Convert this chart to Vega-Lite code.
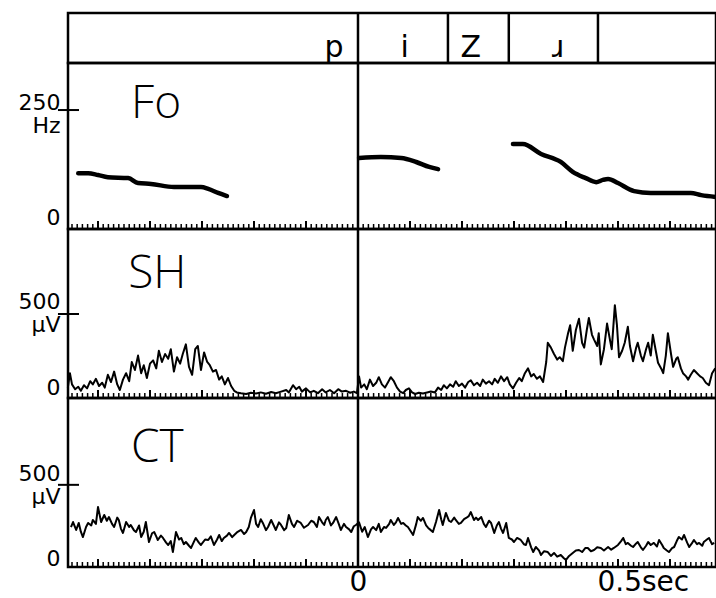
{
  "$schema": "https://vega.github.io/schema/vega-lite/v6.json",
  "background": "white",
  "padding": {"left": 16, "top": 10, "right": 0, "bottom": 4},
  "spacing": 0,
  "bounds": "flush",
  "config": {
    "view": {"stroke": "black", "strokeWidth": 2.5},
    "axis": {"labelFont": "DejaVu Sans", "labelColor": "black", "grid": false, "domain": false}
  },
  "datasets": {
    "zero": [{"t": 0}],
    "bounds": [{"t": 0}, {"t": 0.173}, {"t": 0.29}, {"t": 0.4615}],
    "segs": [{"t": -0.046, "label": "p"}, {"t": 0.09, "label": "i"}, {"t": 0.217, "label": "Z"}, {"t": 0.385, "label": "ɹ"}],
    "majors": [{"t": -0.5}, {"t": -0.4}, {"t": -0.3}, {"t": -0.2}, {"t": -0.1}, {"t": 0}, {"t": 0.1}, {"t": 0.2}, {"t": 0.3}, {"t": 0.4}, {"t": 0.5}, {"t": 0.6}],
    "minors": [
      {"t": -0.55}, {"t": -0.54}, {"t": -0.53}, {"t": -0.52}, {"t": -0.51}, {"t": -0.5}, {"t": -0.49}, {"t": -0.48}, {"t": -0.47}, {"t": -0.46},
      {"t": -0.45}, {"t": -0.44}, {"t": -0.43}, {"t": -0.42}, {"t": -0.41}, {"t": -0.4}, {"t": -0.39}, {"t": -0.38}, {"t": -0.37}, {"t": -0.36},
      {"t": -0.35}, {"t": -0.34}, {"t": -0.33}, {"t": -0.32}, {"t": -0.31}, {"t": -0.3}, {"t": -0.29}, {"t": -0.28}, {"t": -0.27}, {"t": -0.26},
      {"t": -0.25}, {"t": -0.24}, {"t": -0.23}, {"t": -0.22}, {"t": -0.21}, {"t": -0.2}, {"t": -0.19}, {"t": -0.18}, {"t": -0.17}, {"t": -0.16},
      {"t": -0.15}, {"t": -0.14}, {"t": -0.13}, {"t": -0.12}, {"t": -0.11}, {"t": -0.1}, {"t": -0.09}, {"t": -0.08}, {"t": -0.07}, {"t": -0.06},
      {"t": -0.05}, {"t": -0.04}, {"t": -0.03}, {"t": -0.02}, {"t": -0.01}, {"t": 0}, {"t": 0.01}, {"t": 0.02}, {"t": 0.03}, {"t": 0.04},
      {"t": 0.05}, {"t": 0.06}, {"t": 0.07}, {"t": 0.08}, {"t": 0.09}, {"t": 0.1}, {"t": 0.11}, {"t": 0.12}, {"t": 0.13}, {"t": 0.14},
      {"t": 0.15}, {"t": 0.16}, {"t": 0.17}, {"t": 0.18}, {"t": 0.19}, {"t": 0.2}, {"t": 0.21}, {"t": 0.22}, {"t": 0.23}, {"t": 0.24},
      {"t": 0.25}, {"t": 0.26}, {"t": 0.27}, {"t": 0.28}, {"t": 0.29}, {"t": 0.3}, {"t": 0.31}, {"t": 0.32}, {"t": 0.33}, {"t": 0.34},
      {"t": 0.35}, {"t": 0.36}, {"t": 0.37}, {"t": 0.38}, {"t": 0.39}, {"t": 0.4}, {"t": 0.41}, {"t": 0.42}, {"t": 0.43}, {"t": 0.44},
      {"t": 0.45}, {"t": 0.46}, {"t": 0.47}, {"t": 0.48}, {"t": 0.49}, {"t": 0.5}, {"t": 0.51}, {"t": 0.52}, {"t": 0.53}, {"t": 0.54},
      {"t": 0.55}, {"t": 0.56}, {"t": 0.57}, {"t": 0.58}, {"t": 0.59}, {"t": 0.6}, {"t": 0.61}, {"t": 0.62}, {"t": 0.63}, {"t": 0.64},
      {"t": 0.65}, {"t": 0.66}, {"t": 0.67}, {"t": 0.68}
    ],
    "fo": [
      {"seg": 1, "t": -0.538, "hz": 109}, {"seg": 1, "t": -0.519, "hz": 109}, {"seg": 1, "t": -0.5, "hz": 105}, {"seg": 1, "t": -0.481, "hz": 100},
      {"seg": 1, "t": -0.442, "hz": 98}, {"seg": 1, "t": -0.423, "hz": 87}, {"seg": 1, "t": -0.398, "hz": 85}, {"seg": 1, "t": -0.354, "hz": 78},
      {"seg": 1, "t": -0.302, "hz": 78}, {"seg": 1, "t": -0.288, "hz": 74}, {"seg": 1, "t": -0.269, "hz": 65}, {"seg": 1, "t": -0.252, "hz": 58},
      {"seg": 2, "t": 0.002, "hz": 143}, {"seg": 2, "t": 0.044, "hz": 145}, {"seg": 2, "t": 0.083, "hz": 143}, {"seg": 2, "t": 0.112, "hz": 134},
      {"seg": 2, "t": 0.137, "hz": 123}, {"seg": 2, "t": 0.154, "hz": 118},
      {"seg": 3, "t": 0.298, "hz": 174}, {"seg": 3, "t": 0.317, "hz": 174}, {"seg": 3, "t": 0.352, "hz": 152}, {"seg": 3, "t": 0.39, "hz": 134},
      {"seg": 3, "t": 0.413, "hz": 112}, {"seg": 3, "t": 0.438, "hz": 98}, {"seg": 3, "t": 0.458, "hz": 89}, {"seg": 3, "t": 0.471, "hz": 94},
      {"seg": 3, "t": 0.481, "hz": 96}, {"seg": 3, "t": 0.5, "hz": 87}, {"seg": 3, "t": 0.531, "hz": 69}, {"seg": 3, "t": 0.563, "hz": 65},
      {"seg": 3, "t": 0.64, "hz": 65}, {"seg": 3, "t": 0.66, "hz": 60}, {"seg": 3, "t": 0.688, "hz": 56}
    ],
    "sh": [
      {"t": -0.558, "v": 40}, {"t": -0.554, "v": 130}, {"t": -0.55, "v": 60}, {"t": -0.544, "v": 30}, {"t": -0.538, "v": 45},
      {"t": -0.533, "v": 20}, {"t": -0.527, "v": 55}, {"t": -0.521, "v": 35}, {"t": -0.515, "v": 80}, {"t": -0.51, "v": 60},
      {"t": -0.504, "v": 95}, {"t": -0.498, "v": 50}, {"t": -0.492, "v": 70}, {"t": -0.487, "v": 40}, {"t": -0.481, "v": 120},
      {"t": -0.475, "v": 75}, {"t": -0.469, "v": 140}, {"t": -0.463, "v": 60}, {"t": -0.458, "v": 25}, {"t": -0.452, "v": 90},
      {"t": -0.446, "v": 130}, {"t": -0.44, "v": 80}, {"t": -0.435, "v": 200}, {"t": -0.429, "v": 150}, {"t": -0.423, "v": 240},
      {"t": -0.417, "v": 130}, {"t": -0.412, "v": 180}, {"t": -0.406, "v": 100}, {"t": -0.4, "v": 190}, {"t": -0.394, "v": 210},
      {"t": -0.388, "v": 160}, {"t": -0.383, "v": 270}, {"t": -0.377, "v": 200}, {"t": -0.371, "v": 250}, {"t": -0.365, "v": 220},
      {"t": -0.36, "v": 280}, {"t": -0.354, "v": 140}, {"t": -0.348, "v": 230}, {"t": -0.342, "v": 190}, {"t": -0.337, "v": 250},
      {"t": -0.331, "v": 310}, {"t": -0.325, "v": 170}, {"t": -0.319, "v": 120}, {"t": -0.313, "v": 280}, {"t": -0.308, "v": 300},
      {"t": -0.302, "v": 150}, {"t": -0.296, "v": 260}, {"t": -0.29, "v": 200}, {"t": -0.285, "v": 180}, {"t": -0.279, "v": 140},
      {"t": -0.273, "v": 150}, {"t": -0.267, "v": 90}, {"t": -0.262, "v": 110}, {"t": -0.256, "v": 60}, {"t": -0.25, "v": 100},
      {"t": -0.244, "v": 50}, {"t": -0.238, "v": 20}, {"t": -0.233, "v": 10}, {"t": -0.225, "v": 5}, {"t": -0.215, "v": 0},
      {"t": -0.206, "v": 8}, {"t": -0.196, "v": 3}, {"t": -0.187, "v": 10}, {"t": -0.177, "v": 2}, {"t": -0.167, "v": 12},
      {"t": -0.158, "v": 5}, {"t": -0.148, "v": 15}, {"t": -0.138, "v": 25}, {"t": -0.133, "v": 10}, {"t": -0.125, "v": 55},
      {"t": -0.119, "v": 30}, {"t": -0.113, "v": 45}, {"t": -0.108, "v": 15}, {"t": -0.1, "v": 35}, {"t": -0.092, "v": 10},
      {"t": -0.085, "v": 20}, {"t": -0.077, "v": 5}, {"t": -0.069, "v": 30}, {"t": -0.062, "v": 10}, {"t": -0.054, "v": 25},
      {"t": -0.046, "v": 5}, {"t": -0.038, "v": 30}, {"t": -0.031, "v": 15}, {"t": -0.023, "v": 20}, {"t": -0.015, "v": 8},
      {"t": -0.008, "v": 15}, {"t": -0.002, "v": 5}, {"t": 0.002, "v": 110}, {"t": 0.006, "v": 40}, {"t": 0.012, "v": 60},
      {"t": 0.017, "v": 30}, {"t": 0.023, "v": 90}, {"t": 0.029, "v": 50}, {"t": 0.035, "v": 70}, {"t": 0.04, "v": 105},
      {"t": 0.046, "v": 60}, {"t": 0.052, "v": 40}, {"t": 0.058, "v": 75}, {"t": 0.063, "v": 105}, {"t": 0.069, "v": 80},
      {"t": 0.075, "v": 40}, {"t": 0.081, "v": 15}, {"t": 0.087, "v": 5}, {"t": 0.092, "v": 25}, {"t": 0.098, "v": 35},
      {"t": 0.104, "v": 10}, {"t": 0.11, "v": 0}, {"t": 0.117, "v": 8}, {"t": 0.125, "v": 3}, {"t": 0.133, "v": 10},
      {"t": 0.14, "v": 15}, {"t": 0.148, "v": 10}, {"t": 0.154, "v": 40}, {"t": 0.16, "v": 25}, {"t": 0.165, "v": 55},
      {"t": 0.171, "v": 35}, {"t": 0.177, "v": 60}, {"t": 0.183, "v": 45}, {"t": 0.188, "v": 80}, {"t": 0.194, "v": 50},
      {"t": 0.2, "v": 65}, {"t": 0.206, "v": 40}, {"t": 0.212, "v": 75}, {"t": 0.217, "v": 85}, {"t": 0.223, "v": 55},
      {"t": 0.229, "v": 70}, {"t": 0.235, "v": 50}, {"t": 0.24, "v": 90}, {"t": 0.246, "v": 65}, {"t": 0.252, "v": 80},
      {"t": 0.258, "v": 60}, {"t": 0.263, "v": 95}, {"t": 0.269, "v": 70}, {"t": 0.275, "v": 110}, {"t": 0.281, "v": 80},
      {"t": 0.287, "v": 105}, {"t": 0.292, "v": 60}, {"t": 0.298, "v": 35}, {"t": 0.304, "v": 70}, {"t": 0.31, "v": 100},
      {"t": 0.315, "v": 80}, {"t": 0.321, "v": 130}, {"t": 0.327, "v": 160}, {"t": 0.333, "v": 110}, {"t": 0.338, "v": 125},
      {"t": 0.344, "v": 95}, {"t": 0.35, "v": 110}, {"t": 0.356, "v": 75}, {"t": 0.362, "v": 200}, {"t": 0.365, "v": 320},
      {"t": 0.371, "v": 290}, {"t": 0.377, "v": 250}, {"t": 0.383, "v": 215}, {"t": 0.388, "v": 230}, {"t": 0.394, "v": 205},
      {"t": 0.398, "v": 290}, {"t": 0.404, "v": 380}, {"t": 0.408, "v": 430}, {"t": 0.413, "v": 270}, {"t": 0.419, "v": 400},
      {"t": 0.425, "v": 470}, {"t": 0.431, "v": 320}, {"t": 0.435, "v": 290}, {"t": 0.44, "v": 400}, {"t": 0.444, "v": 475},
      {"t": 0.45, "v": 370}, {"t": 0.454, "v": 340}, {"t": 0.46, "v": 300}, {"t": 0.463, "v": 380}, {"t": 0.467, "v": 185},
      {"t": 0.473, "v": 280}, {"t": 0.479, "v": 440}, {"t": 0.485, "v": 330}, {"t": 0.488, "v": 280}, {"t": 0.494, "v": 555},
      {"t": 0.498, "v": 430}, {"t": 0.502, "v": 230}, {"t": 0.508, "v": 270}, {"t": 0.513, "v": 320}, {"t": 0.519, "v": 420},
      {"t": 0.523, "v": 300}, {"t": 0.529, "v": 205}, {"t": 0.535, "v": 290}, {"t": 0.538, "v": 320}, {"t": 0.544, "v": 240},
      {"t": 0.548, "v": 205}, {"t": 0.554, "v": 280}, {"t": 0.558, "v": 320}, {"t": 0.563, "v": 240}, {"t": 0.567, "v": 370},
      {"t": 0.571, "v": 300}, {"t": 0.577, "v": 195}, {"t": 0.583, "v": 160}, {"t": 0.587, "v": 130}, {"t": 0.592, "v": 240},
      {"t": 0.596, "v": 380}, {"t": 0.602, "v": 250}, {"t": 0.606, "v": 170}, {"t": 0.612, "v": 220}, {"t": 0.615, "v": 230},
      {"t": 0.621, "v": 160}, {"t": 0.625, "v": 130}, {"t": 0.631, "v": 110}, {"t": 0.635, "v": 90}, {"t": 0.64, "v": 120},
      {"t": 0.646, "v": 150}, {"t": 0.652, "v": 130}, {"t": 0.658, "v": 110}, {"t": 0.663, "v": 100}, {"t": 0.669, "v": 70},
      {"t": 0.675, "v": 55}, {"t": 0.681, "v": 130}, {"t": 0.687, "v": 160}
    ],
    "ct": [
      {"t": -0.552, "v": 230}, {"t": -0.548, "v": 262}, {"t": -0.542, "v": 211}, {"t": -0.537, "v": 256}, {"t": -0.533, "v": 200},
      {"t": -0.529, "v": 166}, {"t": -0.523, "v": 230}, {"t": -0.519, "v": 256}, {"t": -0.513, "v": 240}, {"t": -0.51, "v": 275},
      {"t": -0.504, "v": 250}, {"t": -0.5, "v": 358}, {"t": -0.494, "v": 262}, {"t": -0.488, "v": 307}, {"t": -0.483, "v": 270},
      {"t": -0.479, "v": 294}, {"t": -0.473, "v": 250}, {"t": -0.469, "v": 230}, {"t": -0.463, "v": 290}, {"t": -0.46, "v": 275},
      {"t": -0.456, "v": 220}, {"t": -0.452, "v": 192}, {"t": -0.446, "v": 262}, {"t": -0.44, "v": 230}, {"t": -0.437, "v": 243},
      {"t": -0.431, "v": 210}, {"t": -0.427, "v": 198}, {"t": -0.421, "v": 240}, {"t": -0.417, "v": 166}, {"t": -0.412, "v": 200},
      {"t": -0.408, "v": 262}, {"t": -0.402, "v": 134}, {"t": -0.396, "v": 190}, {"t": -0.392, "v": 198}, {"t": -0.388, "v": 170},
      {"t": -0.385, "v": 147}, {"t": -0.379, "v": 175}, {"t": -0.375, "v": 160}, {"t": -0.369, "v": 130}, {"t": -0.365, "v": 115},
      {"t": -0.36, "v": 140}, {"t": -0.356, "v": 70}, {"t": -0.35, "v": 198}, {"t": -0.344, "v": 150}, {"t": -0.34, "v": 160},
      {"t": -0.335, "v": 120}, {"t": -0.331, "v": 134}, {"t": -0.325, "v": 110}, {"t": -0.321, "v": 96}, {"t": -0.315, "v": 140},
      {"t": -0.312, "v": 160}, {"t": -0.306, "v": 130}, {"t": -0.302, "v": 115}, {"t": -0.294, "v": 150}, {"t": -0.288, "v": 147},
      {"t": -0.283, "v": 170}, {"t": -0.277, "v": 115}, {"t": -0.271, "v": 150}, {"t": -0.267, "v": 179}, {"t": -0.262, "v": 140},
      {"t": -0.258, "v": 160}, {"t": -0.252, "v": 175}, {"t": -0.248, "v": 192}, {"t": -0.242, "v": 165}, {"t": -0.238, "v": 179},
      {"t": -0.233, "v": 195}, {"t": -0.225, "v": 211}, {"t": -0.219, "v": 185}, {"t": -0.215, "v": 198}, {"t": -0.21, "v": 230},
      {"t": -0.206, "v": 288}, {"t": -0.2, "v": 339}, {"t": -0.196, "v": 250}, {"t": -0.192, "v": 230}, {"t": -0.187, "v": 280},
      {"t": -0.183, "v": 256}, {"t": -0.177, "v": 210}, {"t": -0.173, "v": 230}, {"t": -0.167, "v": 275}, {"t": -0.162, "v": 240},
      {"t": -0.158, "v": 211}, {"t": -0.152, "v": 260}, {"t": -0.148, "v": 243}, {"t": -0.142, "v": 210}, {"t": -0.138, "v": 224},
      {"t": -0.133, "v": 307}, {"t": -0.127, "v": 250}, {"t": -0.123, "v": 230}, {"t": -0.117, "v": 270}, {"t": -0.11, "v": 256},
      {"t": -0.104, "v": 225}, {"t": -0.096, "v": 243}, {"t": -0.09, "v": 270}, {"t": -0.085, "v": 262}, {"t": -0.079, "v": 230},
      {"t": -0.075, "v": 294}, {"t": -0.069, "v": 260}, {"t": -0.065, "v": 243}, {"t": -0.062, "v": 275}, {"t": -0.058, "v": 294},
      {"t": -0.052, "v": 240}, {"t": -0.048, "v": 256}, {"t": -0.042, "v": 294}, {"t": -0.037, "v": 250}, {"t": -0.033, "v": 211},
      {"t": -0.027, "v": 250}, {"t": -0.023, "v": 230}, {"t": -0.017, "v": 215}, {"t": -0.013, "v": 198}, {"t": -0.008, "v": 235},
      {"t": -0.004, "v": 243}, {"t": 0.002, "v": 260}, {"t": 0.008, "v": 200}, {"t": 0.013, "v": 230}, {"t": 0.019, "v": 166},
      {"t": 0.025, "v": 215}, {"t": 0.029, "v": 230}, {"t": 0.035, "v": 210}, {"t": 0.04, "v": 250}, {"t": 0.044, "v": 198},
      {"t": 0.05, "v": 230}, {"t": 0.054, "v": 224}, {"t": 0.06, "v": 250}, {"t": 0.063, "v": 275}, {"t": 0.069, "v": 243},
      {"t": 0.073, "v": 260}, {"t": 0.077, "v": 288}, {"t": 0.083, "v": 250}, {"t": 0.087, "v": 256}, {"t": 0.092, "v": 240},
      {"t": 0.096, "v": 230}, {"t": 0.102, "v": 200}, {"t": 0.106, "v": 179}, {"t": 0.112, "v": 250}, {"t": 0.115, "v": 294},
      {"t": 0.121, "v": 270}, {"t": 0.125, "v": 288}, {"t": 0.131, "v": 240}, {"t": 0.135, "v": 224}, {"t": 0.14, "v": 210},
      {"t": 0.144, "v": 198}, {"t": 0.15, "v": 262}, {"t": 0.156, "v": 339}, {"t": 0.16, "v": 280}, {"t": 0.163, "v": 243},
      {"t": 0.169, "v": 320}, {"t": 0.175, "v": 270}, {"t": 0.179, "v": 262}, {"t": 0.185, "v": 290}, {"t": 0.188, "v": 275},
      {"t": 0.194, "v": 250}, {"t": 0.198, "v": 256}, {"t": 0.204, "v": 280}, {"t": 0.208, "v": 288}, {"t": 0.213, "v": 300},
      {"t": 0.217, "v": 326}, {"t": 0.223, "v": 275}, {"t": 0.227, "v": 290}, {"t": 0.231, "v": 275}, {"t": 0.237, "v": 294},
      {"t": 0.242, "v": 250}, {"t": 0.246, "v": 230}, {"t": 0.252, "v": 270}, {"t": 0.256, "v": 256}, {"t": 0.262, "v": 192},
      {"t": 0.267, "v": 240}, {"t": 0.271, "v": 262}, {"t": 0.275, "v": 220}, {"t": 0.279, "v": 192}, {"t": 0.285, "v": 256},
      {"t": 0.29, "v": 160}, {"t": 0.296, "v": 150}, {"t": 0.3, "v": 134}, {"t": 0.306, "v": 160}, {"t": 0.313, "v": 147},
      {"t": 0.319, "v": 120}, {"t": 0.323, "v": 115}, {"t": 0.327, "v": 160}, {"t": 0.333, "v": 100}, {"t": 0.337, "v": 70},
      {"t": 0.342, "v": 102}, {"t": 0.348, "v": 80}, {"t": 0.352, "v": 51}, {"t": 0.358, "v": 75}, {"t": 0.365, "v": 70},
      {"t": 0.371, "v": 45}, {"t": 0.377, "v": 64}, {"t": 0.383, "v": 40}, {"t": 0.39, "v": 51}, {"t": 0.396, "v": 30},
      {"t": 0.4, "v": 19}, {"t": 0.406, "v": 45}, {"t": 0.413, "v": 64}, {"t": 0.419, "v": 80}, {"t": 0.425, "v": 83},
      {"t": 0.431, "v": 70}, {"t": 0.437, "v": 95}, {"t": 0.442, "v": 96}, {"t": 0.448, "v": 75}, {"t": 0.454, "v": 83},
      {"t": 0.46, "v": 100}, {"t": 0.467, "v": 96}, {"t": 0.473, "v": 80}, {"t": 0.481, "v": 102}, {"t": 0.487, "v": 85},
      {"t": 0.492, "v": 96}, {"t": 0.5, "v": 115}, {"t": 0.506, "v": 140}, {"t": 0.51, "v": 160}, {"t": 0.515, "v": 120},
      {"t": 0.519, "v": 128}, {"t": 0.525, "v": 110}, {"t": 0.529, "v": 102}, {"t": 0.535, "v": 125}, {"t": 0.538, "v": 134},
      {"t": 0.544, "v": 100}, {"t": 0.548, "v": 83}, {"t": 0.554, "v": 110}, {"t": 0.558, "v": 134}, {"t": 0.563, "v": 115},
      {"t": 0.569, "v": 128}, {"t": 0.575, "v": 105}, {"t": 0.579, "v": 147}, {"t": 0.585, "v": 115}, {"t": 0.588, "v": 96},
      {"t": 0.594, "v": 80}, {"t": 0.598, "v": 70}, {"t": 0.604, "v": 95}, {"t": 0.608, "v": 102}, {"t": 0.613, "v": 140},
      {"t": 0.617, "v": 166}, {"t": 0.623, "v": 150}, {"t": 0.627, "v": 179}, {"t": 0.633, "v": 130}, {"t": 0.637, "v": 102},
      {"t": 0.642, "v": 125}, {"t": 0.646, "v": 147}, {"t": 0.652, "v": 120}, {"t": 0.656, "v": 128}, {"t": 0.662, "v": 110},
      {"t": 0.665, "v": 134}, {"t": 0.671, "v": 150}, {"t": 0.675, "v": 160}, {"t": 0.681, "v": 120}, {"t": 0.685, "v": 128}
    ]
  },
  "vconcat": [
    {
      "width": 648,
      "height": 50,
      "layer": [
        {
          "data": {"name": "bounds"},
          "mark": {"type": "rule", "color": "black", "strokeWidth": 2.5},
          "encoding": {"x": {"field": "t", "type": "quantitative", "scale": {"domain": [-0.5577, 0.6885], "nice": false, "zero": false}, "axis": null}}
        },
        {
          "data": {"name": "segs"},
          "mark": {"type": "text", "font": "DejaVu Sans", "fontSize": 30, "baseline": "alphabetic", "align": "center", "color": "black"},
          "encoding": {
            "x": {"field": "t", "type": "quantitative", "scale": {"domain": [-0.5577, 0.6885], "nice": false, "zero": false}, "axis": null},
            "y": {"datum": 0.12, "type": "quantitative", "scale": {"domain": [0, 1], "nice": false, "zero": false}, "axis": null},
            "text": {"field": "label"}
          }
        }
      ]
    },
    {
      "width": 648,
      "height": 166,
      "layer": [
        {
          "data": {"name": "fo"},
          "mark": {"type": "line", "color": "black", "strokeWidth": 4.5, "strokeCap": "round", "strokeJoin": "round", "interpolate": "monotone"},
          "encoding": {
            "x": {"field": "t", "type": "quantitative", "scale": {"domain": [-0.5577, 0.6885], "nice": false, "zero": false}, "axis": null},
            "y": {"field": "hz", "type": "quantitative", "scale": {"domain": [-15.6, 355], "nice": false, "zero": false},
              "axis": {"title": null, "values": [0, 250], "ticks": false, "labelExpr": "datum.value == 250 ? ['250', 'Hz'] : '0'", "labelFontSize": 22, "labelPadding": 8, "labelLineHeight": 23,
                "labelOffset": {"condition": {"test": "datum.value == 0", "value": -5}, "value": -8}, "labelBaseline": "middle", "labelFlush": false, "labelOverlap": false}},
            "detail": {"field": "seg"}
          }
        },
        {
          "data": {"name": "minors"},
          "mark": {"type": "rule", "color": "black", "strokeWidth": 1.5},
          "encoding": {
            "x": {"field": "t", "type": "quantitative", "scale": {"domain": [-0.5577, 0.6885], "nice": false, "zero": false}, "axis": null},
            "y": {"datum": -15.6, "type": "quantitative", "scale": {"domain": [-15.6, 355], "nice": false, "zero": false}},
            "y2": {"datum": -4.4}
          }
        },
        {
          "data": {"name": "majors"},
          "mark": {"type": "rule", "color": "black", "strokeWidth": 2},
          "encoding": {
            "x": {"field": "t", "type": "quantitative", "scale": {"domain": [-0.5577, 0.6885], "nice": false, "zero": false}, "axis": null},
            "y": {"datum": -15.6, "type": "quantitative", "scale": {"domain": [-15.6, 355], "nice": false, "zero": false}},
            "y2": {"datum": 2.3}
          }
        },
        {
          "data": {"name": "zero"},
          "mark": {"type": "rule", "color": "black", "strokeWidth": 2.5},
          "encoding": {"x": {"field": "t", "type": "quantitative", "scale": {"domain": [-0.5577, 0.6885], "nice": false, "zero": false}, "axis": null}}
        },
        {
          "data": {"name": "zero"},
          "mark": {"type": "rule", "color": "black", "strokeWidth": 2},
          "encoding": {
            "x": {"datum": -0.577, "type": "quantitative", "scale": {"domain": [-0.5577, 0.6885], "nice": false, "zero": false}, "axis": null},
            "x2": {"datum": -0.5365},
            "y": {"datum": 250, "type": "quantitative", "scale": {"domain": [-15.6, 355], "nice": false, "zero": false}}
          }
        },
        {
          "data": {"name": "zero"},
          "mark": {"type": "text", "font": "Open Sans", "fontWeight": 300, "fontSize": 46, "align": "left", "baseline": "alphabetic", "color": "black"},
          "encoding": {
            "x": {"datum": -0.4365, "type": "quantitative", "scale": {"domain": [-0.5577, 0.6885], "nice": false, "zero": false}, "axis": null},
            "y": {"datum": 232, "type": "quantitative", "scale": {"domain": [-15.6, 355], "nice": false, "zero": false}},
            "text": {"value": "Fo"}
          }
        }
      ]
    },
    {
      "width": 648,
      "height": 169,
      "layer": [
        {
          "data": {"name": "sh"},
          "mark": {"type": "line", "color": "black", "strokeWidth": 2, "strokeJoin": "round"},
          "encoding": {
            "x": {"field": "t", "type": "quantitative", "scale": {"domain": [-0.5577, 0.6885], "nice": false, "zero": false}, "axis": null},
            "y": {"field": "v", "type": "quantitative", "scale": {"domain": [-25, 1031], "nice": false, "zero": false},
              "axis": {"title": null, "values": [0, 500], "ticks": false, "labelExpr": "datum.value == 500 ? ['500', 'µV'] : '0'", "labelFontSize": 22, "labelPadding": 8, "labelLineHeight": 23,
                "labelOffset": {"condition": {"test": "datum.value == 0", "value": -6}, "value": -12}, "labelBaseline": "middle", "labelFlush": false, "labelOverlap": false}}
          }
        },
        {
          "data": {"name": "minors"},
          "mark": {"type": "rule", "color": "black", "strokeWidth": 1.5},
          "encoding": {
            "x": {"field": "t", "type": "quantitative", "scale": {"domain": [-0.5577, 0.6885], "nice": false, "zero": false}, "axis": null},
            "y": {"datum": -25, "type": "quantitative", "scale": {"domain": [-25, 1031], "nice": false, "zero": false}},
            "y2": {"datum": 6}
          }
        },
        {
          "data": {"name": "majors"},
          "mark": {"type": "rule", "color": "black", "strokeWidth": 2},
          "encoding": {
            "x": {"field": "t", "type": "quantitative", "scale": {"domain": [-0.5577, 0.6885], "nice": false, "zero": false}, "axis": null},
            "y": {"datum": -25, "type": "quantitative", "scale": {"domain": [-25, 1031], "nice": false, "zero": false}},
            "y2": {"datum": 25}
          }
        },
        {
          "data": {"name": "zero"},
          "mark": {"type": "rule", "color": "black", "strokeWidth": 2.5},
          "encoding": {"x": {"field": "t", "type": "quantitative", "scale": {"domain": [-0.5577, 0.6885], "nice": false, "zero": false}, "axis": null}}
        },
        {
          "data": {"name": "zero"},
          "mark": {"type": "rule", "color": "black", "strokeWidth": 2},
          "encoding": {
            "x": {"datum": -0.577, "type": "quantitative", "scale": {"domain": [-0.5577, 0.6885], "nice": false, "zero": false}, "axis": null},
            "x2": {"datum": -0.5365},
            "y": {"datum": 500, "type": "quantitative", "scale": {"domain": [-25, 1031], "nice": false, "zero": false}}
          }
        },
        {
          "data": {"name": "zero"},
          "mark": {"type": "text", "font": "Open Sans", "fontWeight": 300, "fontSize": 46, "align": "left", "baseline": "alphabetic", "color": "black"},
          "encoding": {
            "x": {"datum": -0.442, "type": "quantitative", "scale": {"domain": [-0.5577, 0.6885], "nice": false, "zero": false}, "axis": null},
            "y": {"datum": 662, "type": "quantitative", "scale": {"domain": [-25, 1031], "nice": false, "zero": false}},
            "text": {"value": "SH"}
          }
        }
      ]
    },
    {
      "width": 648,
      "height": 169,
      "layer": [
        {
          "data": {"name": "ct"},
          "mark": {"type": "line", "color": "black", "strokeWidth": 2, "strokeJoin": "round"},
          "encoding": {
            "x": {"field": "t", "type": "quantitative", "scale": {"domain": [-0.5577, 0.6885], "nice": false, "zero": false},
              "axis": {"title": null, "values": [0, 0.5], "ticks": false, "labelExpr": "datum.value == 0 ? '0' : '0.5sec'",
                "labelFontSize": 28, "labelAlign": "left", "labelPadding": 1, "labelOverlap": false, "labelFlush": false, "labelBound": false,
                "labelOffset": {"condition": {"test": "datum.value == 0", "value": -9}, "value": -21}}},
            "y": {"field": "v", "type": "quantitative", "scale": {"domain": [-26, 1056], "nice": false, "zero": false},
              "axis": {"title": null, "values": [0, 500], "ticks": false, "labelExpr": "datum.value == 500 ? ['500', 'µV'] : '0'", "labelFontSize": 22, "labelPadding": 8, "labelLineHeight": 23,
                "labelOffset": {"condition": {"test": "datum.value == 0", "value": -4}, "value": -11}, "labelBaseline": "middle", "labelFlush": false, "labelOverlap": false}}
          }
        },
        {
          "data": {"name": "minors"},
          "mark": {"type": "rule", "color": "black", "strokeWidth": 1.5},
          "encoding": {
            "x": {"field": "t", "type": "quantitative", "scale": {"domain": [-0.5577, 0.6885], "nice": false, "zero": false}},
            "y": {"datum": -26, "type": "quantitative", "scale": {"domain": [-26, 1056], "nice": false, "zero": false}},
            "y2": {"datum": 6}
          }
        },
        {
          "data": {"name": "majors"},
          "mark": {"type": "rule", "color": "black", "strokeWidth": 2},
          "encoding": {
            "x": {"field": "t", "type": "quantitative", "scale": {"domain": [-0.5577, 0.6885], "nice": false, "zero": false}},
            "y": {"datum": -26, "type": "quantitative", "scale": {"domain": [-26, 1056], "nice": false, "zero": false}},
            "y2": {"datum": 25}
          }
        },
        {
          "data": {"name": "zero"},
          "mark": {"type": "rule", "color": "black", "strokeWidth": 2.5},
          "encoding": {"x": {"field": "t", "type": "quantitative", "scale": {"domain": [-0.5577, 0.6885], "nice": false, "zero": false}}}
        },
        {
          "data": {"name": "zero"},
          "mark": {"type": "rule", "color": "black", "strokeWidth": 2},
          "encoding": {
            "x": {"datum": -0.577, "type": "quantitative", "scale": {"domain": [-0.5577, 0.6885], "nice": false, "zero": false}},
            "x2": {"datum": -0.5365},
            "y": {"datum": 500, "type": "quantitative", "scale": {"domain": [-26, 1056], "nice": false, "zero": false}}
          }
        },
        {
          "data": {"name": "zero"},
          "mark": {"type": "text", "font": "Open Sans", "fontWeight": 300, "fontSize": 46, "align": "left", "baseline": "alphabetic", "color": "black"},
          "encoding": {
            "x": {"datum": -0.4365, "type": "quantitative", "scale": {"domain": [-0.5577, 0.6885], "nice": false, "zero": false}},
            "y": {"datum": 646, "type": "quantitative", "scale": {"domain": [-26, 1056], "nice": false, "zero": false}},
            "text": {"value": "CT"}
          }
        }
      ]
    }
  ]
}
